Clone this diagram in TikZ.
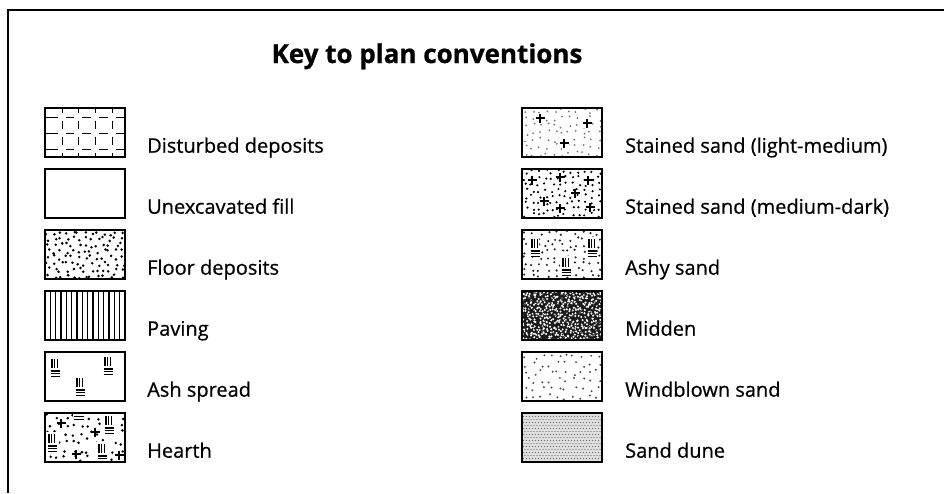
\documentclass[tikz,border=0pt]{standalone}
\usepackage{fontspec}
\setmainfont{Open Sans}
\newcommand\jdots[6]{% nx, ny, radius, color, seed, jitter
  \pgfmathsetseed{#5}%
  \foreach \c in {1,...,#1}{\foreach \r in {1,...,#2}{%
    \pgfmathsetmacro\px{(\c-0.5)*80/#1+rand*#6}%
    \pgfmathsetmacro\py{(\r-0.5)*49/#2+rand*#6}%
    \fill[#4] (\px,\py) circle (#3);}}}
\newcommand\crs[2]{\draw[line width=1.8pt] (#1,#2) ++(-4.5,0) -- ++(9,0) (#1,#2) ++(0,-4.5) -- ++(0,9);}
\newcommand\ash[2]{%
  \begin{scope}[shift={(#1,#2)},line width=1.1pt]
    \draw (1,0) -- (1,9) (3.8,0) -- (3.8,9) (6.6,0) -- (6.6,9);
    \draw (-0.5,12) -- (8.5,12) (-0.5,14.7) -- (8.5,14.7) (-0.5,17.4) -- (8.5,17.4);
  \end{scope}}
\begin{document}
\begin{tikzpicture}[x=1pt,y=-1pt,
  swatch/.style={draw,line width=1.6pt,minimum width=80pt,minimum height=49pt,inner sep=0pt,outer sep=0pt},
  lab/.style={anchor=base west,inner sep=0pt,font=\fontsize{20}{22}\selectfont\addfontfeature{FakeBold=0.6}},
  frame/.style={line width=1.6pt}]
\useasboundingbox (0,0) rectangle (944,493);
\coordinate (ftl) at (8,10);
\coordinate (ftr) at (944,10);
\coordinate (fbl) at (8,493);
\draw[frame] (ftr) -- (ftl) -- (fbl);
\node[anchor=base,inner sep=0pt,font=\bfseries\fontsize{26}{28}\selectfont\addfontfeature{FakeBold=0.8}] (title) at (427,63) {Key to plan conventions};

% left column
\foreach \i/\nm in {1/a,2/b,3/c,4/d,5/e,6/f}{
  \node[swatch] (\nm) at (85,{132.5+61*(\i-1)}) {};
}
% right column
\foreach \i/\nm in {1/g,2/h,3/i,4/j,5/k,6/l}{
  \node[swatch] (\nm) at (562,{132.5+61*(\i-1)}) {};
}

% 1 disturbed deposits
\begin{scope}[shift={(a.north west)}]
  \clip (0,0) rectangle (80,49);
  \foreach \yy in {9,25,41}{
    \foreach \xa/\xb in {-5/17,17/33,33/50,50/67,67/85}{
      \draw[line width=0.95pt] (\xa+3.8,\yy) -- (\xb-3.8,\yy);}}
  \foreach \xx in {17,33,50,67}{
    \foreach \ya/\yb in {-5/9,9/25,25/41,41/55}{
      \draw[line width=0.95pt] (\xx,\ya+3.8) -- (\xx,\yb-3.8);}}
\end{scope}
% 3 floor deposits
\begin{scope}[shift={(c.north west)}]
  \clip (0,0) rectangle (80,49);
  \jdots{13}{8}{1.4pt}{black}{3}{2.4}
\end{scope}
% 4 paving
\begin{scope}[shift={(d.north west)}]
  \foreach \xx in {1,...,14}{\draw[line width=1.1pt] (5.33*\xx,0) -- (5.33*\xx,49);}
\end{scope}
% 5 ash spread
\begin{scope}[shift={(e.north west)}]
  \ash{6}{7}\ash{31}{26}\ash{59}{5}
\end{scope}
% 6 hearth
\begin{scope}[shift={(f.north west)}]
  \clip (0,0) rectangle (80,49);
  \jdots{10}{6}{1.4pt}{black}{6}{3}
  \fill[white] (57,1) rectangle (71,23) (1,19) rectangle (14,40) (50,29) rectangle (64,49) (28,1) rectangle (40,9);
  \crs{16}{10}\crs{50}{19}\crs{31}{41}\crs{74}{42}
  \ash{60}{3}\ash{3}{21}\ash{53}{31}
  \draw[line width=1.1pt] (29,3.5) -- (39,3.5) (29,6.2) -- (39,6.2);
\end{scope}
% 7 stained sand light-medium
\begin{scope}[shift={(g.north west)}]
  \clip (0,0) rectangle (80,49);
  \jdots{11}{7}{1.0pt}{black!55}{7}{2.6}
  \fill[white] (13,5) rectangle (23,15) (60,10) rectangle (70,20) (37,30) rectangle (47,40);
  \crs{18}{10}\crs{65}{15}\crs{42}{35}
\end{scope}
% 8 stained sand medium-dark
\begin{scope}[shift={(h.north west)}]
  \clip (0,0) rectangle (80,49);
  \jdots{12}{8}{1.2pt}{black}{8}{2.4}
  \crs{10}{11}\crs{38}{8}\crs{66}{11}\crs{53}{24}\crs{22}{32}\crs{38}{39}\crs{68}{38}
\end{scope}
% 9 ashy sand
\begin{scope}[shift={(i.north west)}]
  \clip (0,0) rectangle (80,49);
  \jdots{11}{8}{1.2pt}{black!85}{9}{2.4}
  \fill[white] (7,7) rectangle (17,27) (38,26) rectangle (48,46) (65,7) rectangle (75,27);
  \ash{9}{9}\ash{40}{28}\ash{66}{9}
\end{scope}
% 10 midden
\begin{scope}[shift={(j.north west)}]
  \clip (0,0) rectangle (80,49);
  \fill[black!90] (0,0) rectangle (80,49);
  \jdots{26}{16}{1.15pt}{white}{10}{1.6}
  \jdots{20}{12}{0.9pt}{black!85}{11}{2}
\end{scope}
% 11 windblown sand
\begin{scope}[shift={(k.north west)}]
  \clip (0,0) rectangle (80,49);
  \jdots{10}{6}{1.1pt}{black!70}{12}{2.8}
\end{scope}
% 12 sand dune
\begin{scope}[shift={(l.north west)}]
  \clip (0,0) rectangle (80,49);
  \fill[black!12] (0,0) rectangle (80,49);
  \foreach \r in {0,...,16}{\foreach \c in {0,...,27}{
    \fill[black!60] ({\c*3+1.5*mod(\r,2)},{\r*3+0.5}) circle (0.6pt);}}
\end{scope}
% redraw borders
\foreach \nm in {a,b,c,d,e,f,g,h,i,j,k,l}{\draw[line width=1.6pt] (\nm.north west) rectangle (\nm.south east);}

% labels
\node[lab] (ta) at (147,{152.7}) {Disturbed deposits};
\node[lab] (tb) at (147,{152.7+61}) {Unexcavated fill};
\node[lab] (tc) at (147,{152.7+122}) {Floor deposits};
\node[lab] (td) at (147,{152.7+183}) {Paving};
\node[lab] (te) at (147,{152.7+244}) {Ash spread};
\node[lab] (tf) at (147,{152.7+305}) {Hearth};
\node[lab] (tg) at (625,{152.7}) {Stained sand (light-medium)};
\node[lab] (th) at (625,{152.7+61}) {Stained sand (medium-dark)};
\node[lab] (ti) at (625,{152.7+122}) {Ashy sand};
\node[lab] (tj) at (625,{152.7+183}) {Midden};
\node[lab] (tk) at (625,{152.7+244}) {Windblown sand};
\node[lab] (tl) at (625,{152.7+305}) {Sand dune};
\end{tikzpicture}
\end{document}
